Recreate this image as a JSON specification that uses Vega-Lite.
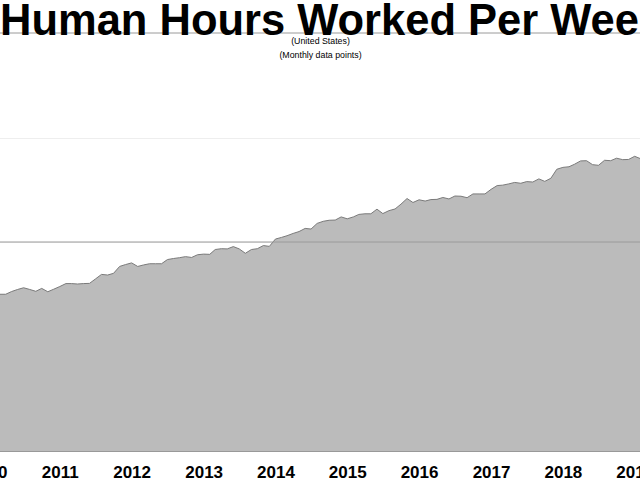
{
  "$schema": "https://vega.github.io/schema/vega-lite/v6.json",
  "width": 652.4,
  "height": 418,
  "autosize": {"type": "none"},
  "padding": {"left": -12.4, "top": 33, "right": 0, "bottom": 29},
  "background": "white",
  "config": {"view": {"stroke": null}, "font": "Liberation Sans"},
  "title": {
    "text": "Human Hours Worked Per Week",
    "anchor": "start",
    "frame": "group",
    "font": "Liberation Sans",
    "fontSize": 43.5,
    "fontWeight": "bold",
    "color": "#000000",
    "dx": 12.4,
    "offset": -12
  },
  "datasets": {
    "hours": [
      {"month": "2010-01-01", "hours": 3.746},
      {"month": "2010-02-01", "hours": 3.746},
      {"month": "2010-03-01", "hours": 3.750},
      {"month": "2010-04-01", "hours": 3.750},
      {"month": "2010-05-01", "hours": 3.763},
      {"month": "2010-06-01", "hours": 3.773},
      {"month": "2010-07-01", "hours": 3.781},
      {"month": "2010-08-01", "hours": 3.773},
      {"month": "2010-09-01", "hours": 3.764},
      {"month": "2010-10-01", "hours": 3.778},
      {"month": "2010-11-01", "hours": 3.762},
      {"month": "2010-12-01", "hours": 3.774},
      {"month": "2011-01-01", "hours": 3.787},
      {"month": "2011-02-01", "hours": 3.801},
      {"month": "2011-03-01", "hours": 3.801},
      {"month": "2011-04-01", "hours": 3.799},
      {"month": "2011-05-01", "hours": 3.801},
      {"month": "2011-06-01", "hours": 3.802},
      {"month": "2011-07-01", "hours": 3.823},
      {"month": "2011-08-01", "hours": 3.845},
      {"month": "2011-09-01", "hours": 3.842},
      {"month": "2011-10-01", "hours": 3.850},
      {"month": "2011-11-01", "hours": 3.883},
      {"month": "2011-12-01", "hours": 3.892},
      {"month": "2012-01-01", "hours": 3.900},
      {"month": "2012-02-01", "hours": 3.883},
      {"month": "2012-03-01", "hours": 3.890},
      {"month": "2012-04-01", "hours": 3.896},
      {"month": "2012-05-01", "hours": 3.896},
      {"month": "2012-06-01", "hours": 3.896},
      {"month": "2012-07-01", "hours": 3.916},
      {"month": "2012-08-01", "hours": 3.921},
      {"month": "2012-09-01", "hours": 3.925},
      {"month": "2012-10-01", "hours": 3.930},
      {"month": "2012-11-01", "hours": 3.926},
      {"month": "2012-12-01", "hours": 3.939},
      {"month": "2013-01-01", "hours": 3.942},
      {"month": "2013-02-01", "hours": 3.941},
      {"month": "2013-03-01", "hours": 3.964},
      {"month": "2013-04-01", "hours": 3.968},
      {"month": "2013-05-01", "hours": 3.967},
      {"month": "2013-06-01", "hours": 3.978},
      {"month": "2013-07-01", "hours": 3.967},
      {"month": "2013-08-01", "hours": 3.946},
      {"month": "2013-09-01", "hours": 3.964},
      {"month": "2013-10-01", "hours": 3.968},
      {"month": "2013-11-01", "hours": 3.983},
      {"month": "2013-12-01", "hours": 3.979},
      {"month": "2014-01-01", "hours": 4.014},
      {"month": "2014-02-01", "hours": 4.022},
      {"month": "2014-03-01", "hours": 4.030},
      {"month": "2014-04-01", "hours": 4.041},
      {"month": "2014-05-01", "hours": 4.050},
      {"month": "2014-06-01", "hours": 4.065},
      {"month": "2014-07-01", "hours": 4.062},
      {"month": "2014-08-01", "hours": 4.089},
      {"month": "2014-09-01", "hours": 4.099},
      {"month": "2014-10-01", "hours": 4.104},
      {"month": "2014-11-01", "hours": 4.105},
      {"month": "2014-12-01", "hours": 4.120},
      {"month": "2015-01-01", "hours": 4.111},
      {"month": "2015-02-01", "hours": 4.120},
      {"month": "2015-03-01", "hours": 4.132},
      {"month": "2015-04-01", "hours": 4.135},
      {"month": "2015-05-01", "hours": 4.135},
      {"month": "2015-06-01", "hours": 4.157},
      {"month": "2015-07-01", "hours": 4.136},
      {"month": "2015-08-01", "hours": 4.150},
      {"month": "2015-09-01", "hours": 4.158},
      {"month": "2015-10-01", "hours": 4.181},
      {"month": "2015-11-01", "hours": 4.208},
      {"month": "2015-12-01", "hours": 4.189},
      {"month": "2016-01-01", "hours": 4.202},
      {"month": "2016-02-01", "hours": 4.196},
      {"month": "2016-03-01", "hours": 4.203},
      {"month": "2016-04-01", "hours": 4.204},
      {"month": "2016-05-01", "hours": 4.213},
      {"month": "2016-06-01", "hours": 4.206},
      {"month": "2016-07-01", "hours": 4.220},
      {"month": "2016-08-01", "hours": 4.219},
      {"month": "2016-09-01", "hours": 4.212},
      {"month": "2016-10-01", "hours": 4.230},
      {"month": "2016-11-01", "hours": 4.230},
      {"month": "2016-12-01", "hours": 4.230},
      {"month": "2017-01-01", "hours": 4.252},
      {"month": "2017-02-01", "hours": 4.270},
      {"month": "2017-03-01", "hours": 4.272},
      {"month": "2017-04-01", "hours": 4.278},
      {"month": "2017-05-01", "hours": 4.285},
      {"month": "2017-06-01", "hours": 4.281},
      {"month": "2017-07-01", "hours": 4.289},
      {"month": "2017-08-01", "hours": 4.287},
      {"month": "2017-09-01", "hours": 4.302},
      {"month": "2017-10-01", "hours": 4.290},
      {"month": "2017-11-01", "hours": 4.305},
      {"month": "2017-12-01", "hours": 4.348},
      {"month": "2018-01-01", "hours": 4.357},
      {"month": "2018-02-01", "hours": 4.360},
      {"month": "2018-03-01", "hours": 4.372},
      {"month": "2018-04-01", "hours": 4.388},
      {"month": "2018-05-01", "hours": 4.389},
      {"month": "2018-06-01", "hours": 4.370},
      {"month": "2018-07-01", "hours": 4.367},
      {"month": "2018-08-01", "hours": 4.391},
      {"month": "2018-09-01", "hours": 4.389},
      {"month": "2018-10-01", "hours": 4.401},
      {"month": "2018-11-01", "hours": 4.394},
      {"month": "2018-12-01", "hours": 4.395},
      {"month": "2019-01-01", "hours": 4.410},
      {"month": "2019-02-01", "hours": 4.398},
      {"month": "2019-03-01", "hours": 4.397}
    ],
    "refs": [
      {"level": 4.0},
      {"level": 5.0}
    ]
  },
  "layer": [
    {
      "data": {"name": "hours"},
      "mark": {
        "type": "area",
        "color": "#bbbbbb",
        "opacity": 1,
        "clip": true,
        "line": {"color": "#7a7a7a", "strokeWidth": 1}
      },
      "encoding": {
        "x": {
          "field": "month",
          "type": "temporal",
          "scale": {
            "type": "utc",
            "domain": [
              {"year": 2009, "month": 12, "date": 30, "utc": true},
              {"year": 2019, "month": 1, "date": 28, "utc": true}
            ]
          },
          "axis": {
            "values": [
              {"year": 2010, "month": 1, "date": 1, "utc": true},
              {"year": 2011, "month": 1, "date": 1, "utc": true},
              {"year": 2012, "month": 1, "date": 1, "utc": true},
              {"year": 2013, "month": 1, "date": 1, "utc": true},
              {"year": 2014, "month": 1, "date": 1, "utc": true},
              {"year": 2015, "month": 1, "date": 1, "utc": true},
              {"year": 2016, "month": 1, "date": 1, "utc": true},
              {"year": 2017, "month": 1, "date": 1, "utc": true},
              {"year": 2018, "month": 1, "date": 1, "utc": true},
              {"year": 2019, "month": 1, "date": 1, "utc": true}
            ],
            "format": "%Y",
            "labelFont": "Liberation Sans",
            "labelFontSize": 17,
            "labelFontWeight": "bold",
            "labelColor": "#000000",
            "labelPadding": 13,
            "labelFlush": false,
            "labelOverlap": false,
            "labelBound": false,
            "ticks": false,
            "grid": false,
            "domainColor": "#999999",
            "title": ["(United States)", "(Monthly data points)"],
            "titleX": 332.4,
            "titleY": -414.5,
            "titleAlign": "center",
            "titleBaseline": "top",
            "titleFont": "Liberation Sans",
            "titleFontSize": 8.8,
            "titleFontWeight": "normal",
            "titleLineHeight": 14,
            "titleColor": "#000000"
          }
        },
        "y": {
          "field": "hours",
          "type": "quantitative",
          "scale": {"domain": [3, 5], "nice": false, "zero": false},
          "axis": {
            "values": [3.5, 4, 4.5],
            "labels": false,
            "ticks": false,
            "domain": false,
            "title": null,
            "grid": true,
            "gridColor": "#eeeeee"
          }
        }
      }
    },
    {
      "data": {"name": "refs"},
      "mark": {"type": "rule", "color": "#9a9a9a", "strokeWidth": 1},
      "encoding": {
        "y": {"field": "level", "type": "quantitative"}
      }
    }
  ]
}
